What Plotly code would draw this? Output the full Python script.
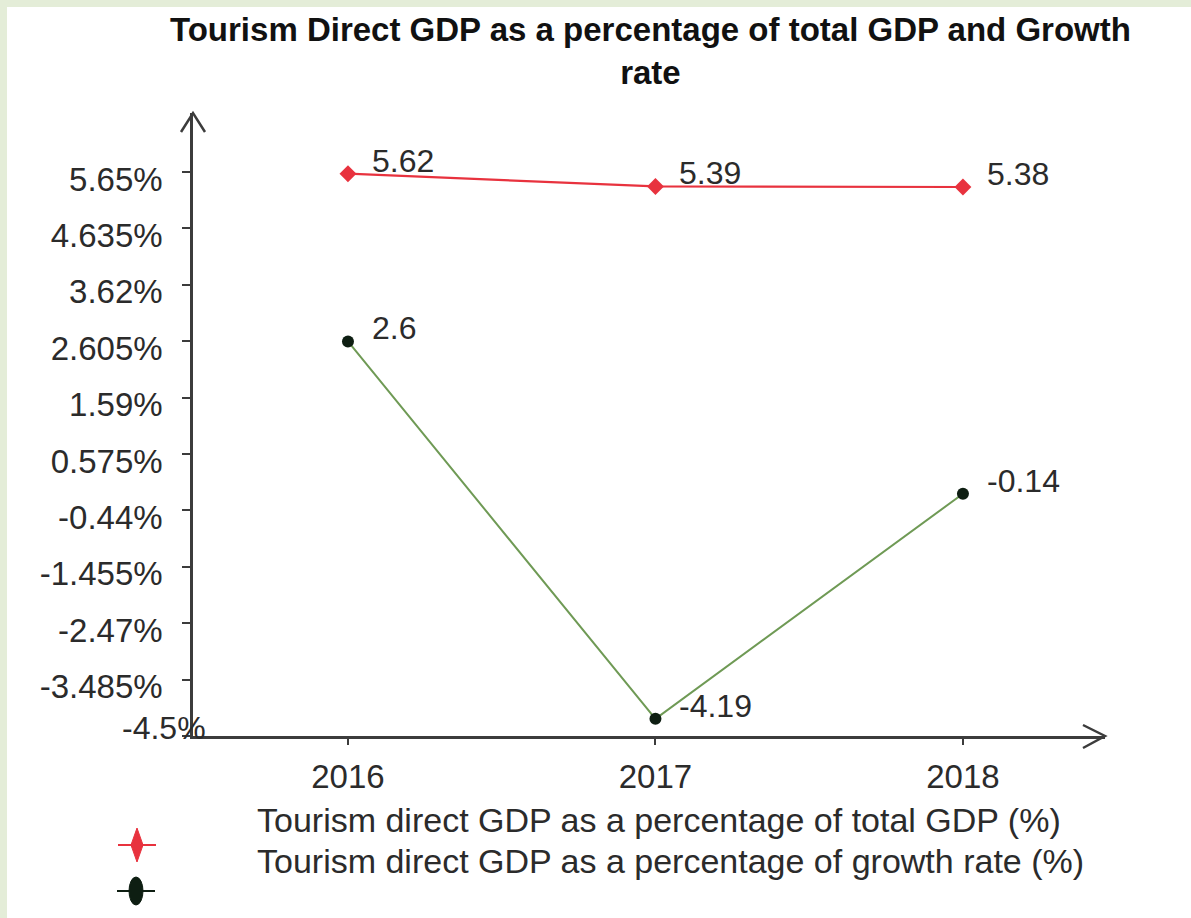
import plotly.graph_objects as go

# ---------------- data ----------------
years = ["2016", "2017", "2018"]
year_pos = [0, 1, 2]
share_of_total_gdp = [5.62, 5.39, 5.38]
growth_rate = [2.6, -4.19, -0.14]
share_labels = ["5.62", "5.39", "5.38"]
growth_labels = ["2.6", "-4.19", "-0.14"]
ytick_vals = [5.65, 4.635, 3.62, 2.605, 1.59, 0.575, -0.44, -1.455, -2.47, -3.485, -4.5]
ytick_text = ["5.65%", "4.635%", "3.62%", "2.605%", "1.59%", "0.575%", "-0.44%",
              "-1.455%", "-2.47%", "-3.485%", "-4.5%"]
series_names = ["Tourism direct GDP as a percentage of total GDP (%)",
                "Tourism direct GDP as a percentage of growth rate (%)"]
title_lines = ["Tourism Direct GDP as a percentage of total GDP and Growth", "rate"]

# ---------------- layout constants ----------------
W, H = 1191, 918
ML, MR, MT, MB = 193, 86, 113, 182
PW, PH = W - ML - MR, H - MT - MB
FONT = "Liberation Sans, Arial, sans-serif"
TXT = "#2b2b2b"
AX = "#3c3c3c"
RED = "#e8323e"
GREEN = "#6f9a55"
DARK = "#0e1e12"


def px(x):
    return (x - ML) / PW


def py(y):
    return (H - MB - y) / PH


fig = go.Figure()
fig.add_trace(go.Scatter(
    x=year_pos, y=share_of_total_gdp, mode="lines+markers", name=series_names[0],
    line=dict(color=RED, width=2.2),
    marker=dict(symbol="diamond", size=13, color=RED),
    cliponaxis=False, showlegend=False))
fig.add_trace(go.Scatter(
    x=year_pos, y=growth_rate, mode="lines+markers", name=series_names[1],
    line=dict(color=GREEN, width=2),
    marker=dict(symbol="circle", size=12, color=DARK),
    cliponaxis=False, showlegend=False))

annotations = []
for xs, ys, labs in [(year_pos, share_of_total_gdp, share_labels),
                     (year_pos, growth_rate, growth_labels)]:
    for xv, yv, lab in zip(xs, ys, labs):
        annotations.append(dict(
            x=xv, y=yv, xref="x", yref="y", text=lab, showarrow=False,
            xanchor="left", yanchor="middle", xshift=22, yshift=13,
            font=dict(family=FONT, size=32, color=TXT)))

# special bottom tick label (drawn overlapping the axis, as in the source)
annotations.append(dict(
    x=0, y=ytick_vals[-1], xref="paper", yref="y", text=ytick_text[-1],
    showarrow=False, xanchor="right", yanchor="middle", xshift=15, yshift=8,
    font=dict(family=FONT, size=32, color=TXT)))

# title
annotations.append(dict(x=px(650), y=py(51), xref="paper", yref="paper",
                        text="<br>".join(title_lines), showarrow=False,
                        xanchor="center", yanchor="middle", align="center",
                        font=dict(family=FONT, size=33, color="#111111", weight="bold")))

# legend texts
annotations.append(dict(x=px(255), y=py(820), xref="paper", yref="paper",
                        text=series_names[0], showarrow=False, xanchor="left",
                        yanchor="middle", font=dict(family=FONT, size=34, color=TXT)))
annotations.append(dict(x=px(255), y=py(861), xref="paper", yref="paper",
                        text=series_names[1], showarrow=False, xanchor="left",
                        yanchor="middle", font=dict(family=FONT, size=34, color=TXT)))

shapes = [
    # white panel over the greenish frame
    dict(type="rect", xref="paper", yref="paper", layer="below",
         x0=px(7), x1=px(W + 5), y0=py(H + 5), y1=py(7),
         fillcolor="white", line=dict(width=0)),
    # y-axis arrow head
    dict(type="path", xref="paper", yref="paper",
         path=f"M {px(181)} {py(132)} L {px(193)} {py(113)} L {px(205)} {py(132)}",
         line=dict(color=AX, width=2.5)),
    # x-axis arrow head
    dict(type="path", xref="paper", yref="paper",
         path=f"M {px(1083)} {py(725)} L {px(1105)} {py(736)} L {px(1083)} {py(748)}",
         line=dict(color=AX, width=2.5)),
    # legend glyphs
    dict(type="line", xref="paper", yref="paper",
         x0=px(118), x1=px(156), y0=py(845), y1=py(845), line=dict(color=RED, width=2)),
    dict(type="path", xref="paper", yref="paper",
         path=f"M {px(137)} {py(828)} L {px(143)} {py(845)} L {px(137)} {py(862)} L {px(131)} {py(845)} Z",
         fillcolor=RED, line=dict(color=RED, width=1)),
    dict(type="line", xref="paper", yref="paper",
         x0=px(117), x1=px(155), y0=py(891), y1=py(891), line=dict(color=DARK, width=2)),
    dict(type="circle", xref="paper", yref="paper",
         x0=px(129), x1=px(143), y0=py(905), y1=py(877),
         fillcolor=DARK, line=dict(color=DARK, width=1)),
]

fig.update_layout(
    width=W, height=H,
    margin=dict(l=ML, r=MR, t=MT, b=MB, pad=0),
    paper_bgcolor="#e4edd8", plot_bgcolor="rgba(0,0,0,0)",
    font=dict(family=FONT, size=32, color=TXT),
    annotations=annotations, shapes=shapes, showlegend=False,
)
fig.update_xaxes(
    range=[-0.504, 2.462], showgrid=False, zeroline=False,
    tickvals=year_pos, ticktext=years,
    showline=True, linecolor=AX, linewidth=2.5,
    ticks="outside", ticklen=6, tickwidth=1.5, tickcolor=AX,
    tickfont=dict(family=FONT, size=33, color=TXT), ticklabelstandoff=4)
fig.update_yaxes(
    range=[-4.5, 6.712], showgrid=False, zeroline=False,
    showline=True, linecolor=AX, linewidth=2.5,
    tickvals=ytick_vals, ticktext=ytick_text[:-1] + [""],
    ticks="outside", ticklen=8, tickwidth=1.5, tickcolor=AX,
    tickfont=dict(family=FONT, size=33, color=TXT),
    ticklabelstandoff=13, ticklabelshift=7)

fig.write_html("out.html", config={"displayModeBar": False},
               post_script="document.body.style.margin='0';document.body.style.overflow='hidden';")
